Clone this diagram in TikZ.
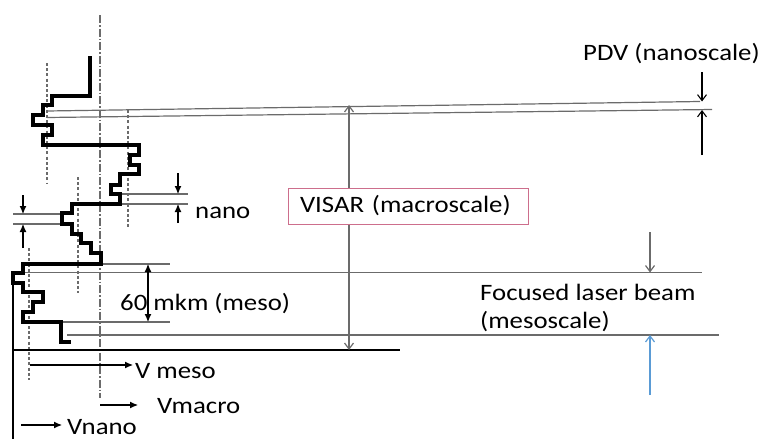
\documentclass[tikz,border=0pt]{standalone}
\usepackage{fontspec}
\setmainfont{Carlito}[FakeStretch=1.14]
\usetikzlibrary{arrows.meta}
\definecolor{thinline}{gray}{0.42}
\definecolor{boxpink}{RGB}{205,110,140}
\definecolor{beamblue}{RGB}{90,155,213}

\begin{document}
\begin{tikzpicture}[x=1pt,y=-1pt,
  profile/.style={line width=3.2pt, line join=miter, line cap=butt},
  thin/.style={thinline, line width=1.2pt},
  guide/.style={thinline, line width=1.1pt, dash pattern=on 3pt off 2.2pt},
  axisline/.style={thinline, line width=1.1pt, dash pattern=on 8pt off 2pt on 1.5pt off 2pt},
  fillarrow/.style={line width=1.1pt, -{Latex[length=8pt,width=7pt]}},
  openarrow/.style={thinline, line width=1.2pt, -{Straight Barb[length=6pt,width=9pt]}},
  lbl/.style={font=\fontsize{23.5}{28}\selectfont, inner sep=0pt, anchor=base west}]

\clip (0,0) rectangle (766,439);
\useasboundingbox (0,0) rectangle (766,439);

% guide lines for the three averaging scales
\draw[axisline] (100,15) -- (100,398);
\draw[guide] (47,63) -- (47,183);
\draw[guide] (128,110) -- (128,229);
\draw[guide] (78,177) -- (78,293);
\draw[guide] (29,248) -- (29,380);

% PDV probe beams (slanted pair)
\draw[thin] (47,111) -- (700,101.5);
\draw[thin] (47,117.5) -- (712,109.5);

% reference lines
\draw[thin] (120,194) -- (188,194);
\draw[thin] (120,204) -- (188,204);
\draw[thin] (13,214) -- (62,214);
\draw[thin] (13,224) -- (62,224);
\draw[thin] (101,264) -- (170,264);
\draw[thin] (23,272.5) -- (702,272.5);
\draw[thin] (61,322) -- (170,322);
\draw[thin] (67,335) -- (719,335);
\draw[line width=1.2pt] (13,350) -- (400,350);
\draw[line width=1.2pt] (13,273) -- (13,440);

% stepped free-surface profile
\draw[profile] (90,56) -- (90,96) -- (52,96) -- (52,105) -- (43,105) -- (43,115)
  -- (33,115) -- (33,125) -- (52,125) -- (52,135) -- (43,135) -- (43,145)
  -- (139,145) -- (139,155) -- (130,155) -- (130,165) -- (139,165) -- (139,174)
  -- (120,174) -- (120,185) -- (111,185) -- (111,194) -- (120,194) -- (120,204)
  -- (72,204) -- (72,213) -- (62,213) -- (62,224) -- (72,224) -- (72,234)
  -- (81,234) -- (81,243) -- (91,243) -- (91,253) -- (101,253) -- (101,264)
  -- (23,264) -- (23,273) -- (13,273) -- (13,283) -- (23,283) -- (23,292)
  -- (43,292) -- (43,302) -- (33,302) -- (33,312) -- (23,312) -- (23,322)
  -- (61,322) -- (61,342) -- (71,342);

% named end points of the dimension arrows
\coordinate (nrA) at (178,173); \coordinate (nrB) at (178,194);
\coordinate (nrC) at (178,223); \coordinate (nrD) at (178,204);
\coordinate (nlA) at (23,195);  \coordinate (nlB) at (23,214);
\coordinate (nlC) at (23,248);  \coordinate (nlD) at (23,224);
\coordinate (mTop) at (148,264); \coordinate (mBot) at (148,322);
\coordinate (vTop) at (349,105); \coordinate (vBot) at (349,350);
\coordinate (pA) at (702,72);  \coordinate (pB) at (702,101.5);
\coordinate (pC) at (702,155); \coordinate (pD) at (702,110);
\coordinate (fA) at (650,232); \coordinate (fB) at (650,272.5);
\coordinate (fC) at (650,395); \coordinate (fD) at (650,335);
\coordinate (vmS) at (30,365);  \coordinate (vmE) at (133,365);
\coordinate (vaS) at (100,405); \coordinate (vaE) at (138,405);
\coordinate (vnS) at (21,425);  \coordinate (vnE) at (62,425);

% nano-scale step arrows
\draw[fillarrow] (nrA) -- (nrB);
\draw[fillarrow] (nrC) -- (nrD);
\draw[fillarrow] (nlA) -- (nlB);
\draw[fillarrow] (nlC) -- (nlD);

% meso-scale 60 mkm dimension
\draw[line width=1.1pt, {Latex[length=8pt,width=7pt]}-{Latex[length=8pt,width=7pt]}] (mTop) -- (mBot);

% VISAR spot
\draw[thinline, line width=1.2pt, {Straight Barb[length=6pt,width=9pt]}-{Straight Barb[length=6pt,width=9pt]}] (vTop) -- (vBot);

% PDV spot
\draw[line width=1.1pt, -{Straight Barb[length=6pt,width=9pt]}] (pA) -- (pB);
\draw[line width=1.1pt, -{Straight Barb[length=6pt,width=9pt]}] (pC) -- (pD);

% focused laser beam
\draw[openarrow] (fA) -- (fB);
\draw[openarrow, beamblue] (fC) -- (fD);

% velocity arrows
\draw[fillarrow] (vmS) -- (vmE);
\draw[fillarrow] (vaS) -- (vaE);
\draw[fillarrow] (vnS) -- (vnE);

% labels
\node[draw=boxpink, line width=1pt, fill=white, text width=216pt, align=left,
      inner xsep=12pt, inner ysep=0pt, minimum height=36pt,
      font=\fontsize{23.5}{28}\selectfont] (visar) at (408,206) {VISAR (macroscale)};
\node[lbl] (pdv) at (583,60.5) {PDV (nanoscale)};
\node[lbl] (nano) at (195,218) {nano};
\node[lbl] (mkm) at (120,310) {60 mkm (meso)};
\node[lbl] (laser1) at (480,300) {Focused laser beam};
\node[lbl] (laser2) at (480,328) {(mesoscale)};
\node[lbl] (vmeso) at (135,378) {V meso};
\node[lbl] (vmacro) at (157,413) {Vmacro};
\node[lbl] (vnano) at (67,434) {Vnano};
\end{tikzpicture}
\end{document}
